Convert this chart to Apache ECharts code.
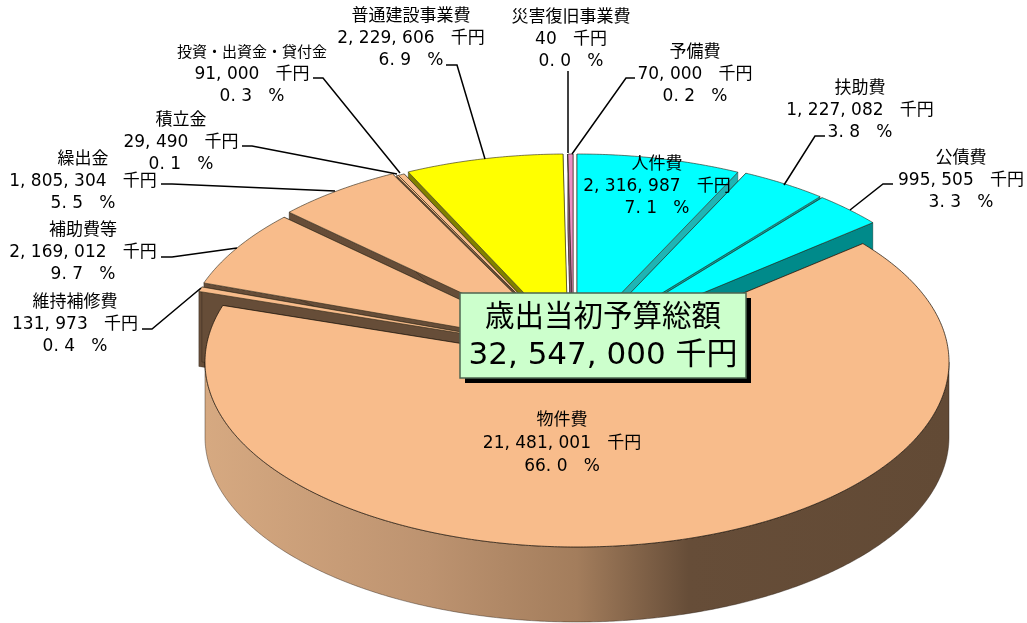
<!DOCTYPE html>
<html>
<head>
<meta charset="utf-8">
<script src="https://cdn.jsdelivr.net/npm/echarts@6/dist/echarts.min.js"></script>
<style>
html, body { margin: 0; padding: 0; background: #fff; }
#chart { width: 1027px; height: 623px; }
</style>
</head>
<body>
<div id="chart"></div>
<script>
// data, clockwise from 12 o'clock
var categories = ['人件費', '扶助費', '公債費', '物件費', '維持補修費', '補助費等', '繰出金', '積立金', '投資・出資金・貸付金', '普通建設事業費', '災害復旧事業費', '予備費'];
var values = [2316987, 1227082, 995505, 21481001, 131973, 2169012, 1805304, 29490, 91000, 2229606, 40, 70000];
var percents = [7.1, 3.8, 3.3, 66.0, 0.4, 9.7, 5.5, 0.1, 0.3, 6.9, 0.0, 0.2];
var boxTitle = '歳出当初予算総額';

// look of the pie
var cx = 577, cy = 362, rx = 372, ry = 185, depth = 75;
var topColors = ['#00ffff', '#00ffff', '#00ffff', '#f8bc8b', '#f8bc8b', '#f8bc8b', '#f8bc8b', '#f8bc8b', '#f8bc8b', '#ffff00', '#f8bc8b', '#e98fc4'];
var wallColors = ['#1fb4b4', '#0d9c9c', '#008a8a', '#664d38', '#664d38', '#664d38', '#664d38', '#664d38', '#664d38', '#808000', '#664d38', '#8a5a78'];
var offsetX = [0, 8, 10, 0, -24, -22, -17, -13, -13, -9, -4, -4];
var offsetY = [-23, -22, -21, 0, -14, -18, -23, -21, -21, -23, -23, -23];
var drawOrder = [10, 11, 0, 1, 2, 9, 8, 7, 6, 5, 4, 3];

// label placing: centre x, y of first line, line step, font size
var labelX = [657, 860, 961, 562, 75, 83, 83, 181, 252, 411, 571, 695];
var labelY = [165, 89, 159, 421, 303, 231, 160, 121, 53, 17, 18, 53];
var labelStep = [22, 22, 22, 23, 22, 22, 22, 22, 22, 22, 22, 22];
var leaders = [
  null,
  [[825, 136], [815, 136], [784, 185]],
  [[893, 184], [883, 184], [850, 210]],
  null,
  [[142, 329], [152, 329], [201, 288]],
  [[161, 257], [172, 257], [237, 248]],
  [[161, 184], [172, 184], [335, 191]],
  [[242, 146], [252, 146], [397, 174]],
  [[313, 78], [323, 78], [400, 173]],
  [[446, 65], [457, 65], [485, 159]],
  [[568, 71], [568, 153]],
  [[635, 78], [626, 78], [572, 154]]
];
var textFont = '"DejaVu Sans", "Noto Sans CJK JP", sans-serif';

function fmtAmount(v) {
  return String(v).replace(/\B(?=(\d{3})+$)/g, ', ');
}
function fmtPercent(p) {
  return p.toFixed(1).replace('.', '. ');
}

var total = 0;
for (var i = 0; i < values.length; i++) total += values[i];

// each row: slice index, start angle, end angle (degrees)
var startAngles = [];
var run = 0;
for (var j = 0; j < values.length; j++) {
  startAngles.push(run / total * 360);
  run += values[j];
}
var rows = drawOrder.map(function (k) {
  return [k, startAngles[k], startAngles[k] + values[k] / total * 360];
});

function rim(deg, dx, dy) {
  var a = deg * Math.PI / 180;
  return [cx + dx + rx * Math.sin(a), cy + dy - ry * Math.cos(a)];
}
function arcPoints(a0, a1, dx, dy) {
  var pts = [];
  var n = Math.max(1, Math.ceil((a1 - a0) / 0.5));
  for (var s = 0; s <= n; s++) pts.push(rim(a0 + (a1 - a0) * s / n, dx, dy));
  return pts;
}
function wall(a, dx, dy, color, z) {
  var p = rim(a, dx, dy);
  var c = [cx + dx, cy + dy];
  return {
    type: 'polygon', z2: z,
    shape: { points: [c, p, [p[0], p[1] + depth], [c[0], c[1] + depth]] },
    style: { fill: color, stroke: 'rgba(30,25,15,0.55)', lineWidth: 0.6 }
  };
}

function renderSlice(params, api) {
  var k = api.value(0), a0 = api.value(1), a1 = api.value(2);
  var dx = offsetX[k], dy = offsetY[k];
  var z = params.dataIndex * 10;
  var kids = [];
  kids.push(wall(a0, dx, dy, wallColors[k], z));
  kids.push(wall(a1, dx, dy, wallColors[k], z));
  // outer side, only the part facing the viewer
  var f0 = Math.max(a0, 90), f1 = Math.min(a1, 270);
  if (f1 > f0) {
    var upper = arcPoints(f0, f1, dx, dy);
    var lower = arcPoints(f0, f1, dx, dy + depth).reverse();
    kids.push({
      type: 'polygon', z2: z + 1,
      shape: { points: upper.concat(lower) },
      style: {
        fill: new echarts.graphic.LinearGradient(0, 0, 1, 0, [
          { offset: 0, color: '#d6a981' },
          { offset: 0.3, color: '#bd9370' },
          { offset: 0.5, color: '#a37d5c' },
          { offset: 0.65, color: '#664d38' },
          { offset: 1, color: '#624a35' }
        ]),
        stroke: 'rgba(40,30,20,0.7)', lineWidth: 0.6
      }
    });
  }
  var top = [[cx + dx, cy + dy]].concat(arcPoints(a0, a1, dx, dy));
  kids.push({
    type: 'polygon', z2: z + 2,
    shape: { points: top },
    style: { fill: topColors[k], stroke: k === 3 ? 'rgba(25,18,10,0.9)' : 'rgba(40,35,20,0.75)', lineWidth: 0.8 }
  });
  return { type: 'group', children: kids };
}

// labels and leader lines
var gfx = [];
leaders.forEach(function (pts) {
  if (!pts) return;
  gfx.push({
    type: 'polyline', z: 20, silent: true,
    shape: { points: pts },
    style: { stroke: '#000', lineWidth: 1.5, fill: null }
  });
});
categories.forEach(function (name, k) {
  var lines = [name, fmtAmount(values[k]) + '   千円', fmtPercent(percents[k]) + '   %'];
  lines.forEach(function (t, n) {
    gfx.push({
      type: 'text', z: 21, silent: true,
      x: labelX[k], y: labelY[k] + n * labelStep[k],
      style: {
        text: t, fill: '#000', align: 'center', verticalAlign: 'middle',
        // the long name has narrow dots in the reference
        font: (name.length > 8 && n === 0 ? '15px ' : '17px ') + textFont
      }
    });
  });
});
// centre box
gfx.push({ type: 'rect', z: 22, silent: true, shape: { x: 465, y: 298, width: 286, height: 85 }, style: { fill: '#000' } });
gfx.push({ type: 'rect', z: 23, silent: true, shape: { x: 460, y: 293, width: 286, height: 85 }, style: { fill: '#ccffcc', stroke: '#4d6650', lineWidth: 1.5 } });
gfx.push({
  type: 'text', z: 24, silent: true, x: 603, y: 318,
  style: { text: boxTitle, fill: '#000', align: 'center', verticalAlign: 'middle', font: '29.5px ' + textFont }
});
gfx.push({
  type: 'text', z: 24, silent: true, x: 603, y: 356,
  style: { text: fmtAmount(total) + ' 千円', fill: '#000', align: 'center', verticalAlign: 'middle', font: '31px ' + textFont }
});

var chart = echarts.init(document.getElementById('chart'));
chart.setOption({
  backgroundColor: '#ffffff',
  animation: false,
  graphic: gfx,
  series: [{
    type: 'custom',
    coordinateSystem: 'none',
    silent: true,
    clip: false,
    renderItem: renderSlice,
    data: rows
  }]
});
</script>
</body>
</html>
